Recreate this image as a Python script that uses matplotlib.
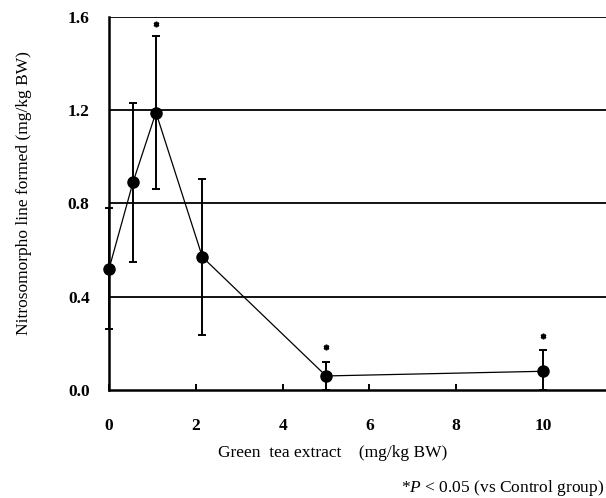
import numpy as np
import matplotlib.pyplot as plt

plt.rcParams['font.family'] = ['Liberation Serif', 'DejaVu Serif']
plt.rcParams['mathtext.fontset'] = 'custom'
plt.rcParams['mathtext.it'] = 'Liberation Serif:italic'
plt.rcParams['mathtext.rm'] = 'Liberation Serif'

# dose (mg/kg BW) | nitrosomorpholine formed | SD
dose = [0, 0.55, 1.08, 2.15, 5, 10]
nmor = [0.52, 0.89, 1.19, 0.57, 0.06, 0.08]
err = [0.26, 0.34, 0.33, 0.335, 0.06, 0.09]
# significant points (* P < 0.05)
star_x = [1.08, 5, 10]
star_y = [1.57, 0.185, 0.23]

fig = plt.figure(figsize=(6.06, 4.98), dpi=100)
ax = fig.add_axes([0.180, 0.217, 0.820, 0.749])

for gy in [0.4, 0.8, 1.2, 1.6]:
    ax.axhline(gy, color='black', lw=1.3, zorder=1)

lo_err = [min(e, v) for e, v in zip(err, nmor)]
ax.errorbar(dose, nmor, yerr=[lo_err, err], fmt='o-', color='black', ms=8,
            lw=0.9, elinewidth=1.4, capsize=3, capthick=1.4,
            clip_on=False, zorder=4)
ax.plot(star_x, star_y, linestyle='none', marker=(6, 2, 0), ms=4,
        mew=1.2, color='black', clip_on=False, zorder=4)

ax.set_xlim(0, 11.45)
ax.set_ylim(0, 1.6)
ax.set_xticks([0, 2, 4, 6, 8, 10])
ax.set_yticks([0.0, 0.4, 0.8, 1.2, 1.6])
ax.set_yticklabels(['0.0', '0.4', '0.8', '1.2', '1.6'])
ax.tick_params(axis='x', direction='in', length=4, width=1.4, pad=20,
               labelsize=12.5)
ax.tick_params(axis='y', length=0, pad=14, labelsize=12.5)
for lab in ax.get_xticklabels() + ax.get_yticklabels():
    lab.set_fontweight('bold')

ax.spines['top'].set_visible(False)
ax.spines['right'].set_visible(False)
ax.spines['left'].set_linewidth(1.8)
ax.spines['bottom'].set_linewidth(1.8)

ax.set_xlabel('Green  tea extract    (mg/kg BW)', fontsize=12.5)
ax.xaxis.set_label_coords(0.449, -0.169)
ax.xaxis.label.set_va('center')
ax.set_ylabel('Nitrosomorpho line formed (mg/kg BW)', fontsize=12.5)
ax.yaxis.set_label_coords(-0.171, 0.528)
ax.yaxis.label.set_va('center')
fig.text(0.997, 0.02, r'*$\it{P}$ < 0.05 (vs Control group)', ha='right',
         va='center', fontsize=12.5)

plt.savefig('out.png', dpi=100)
